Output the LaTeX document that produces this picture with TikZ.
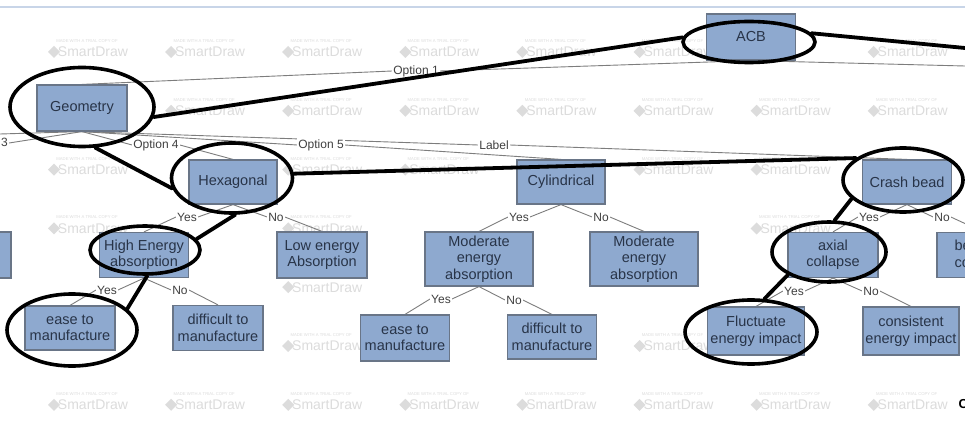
\documentclass[tikz,border=0pt]{standalone}
\usepackage{fontspec}
\setmainfont{Liberation Sans}
\usepackage{tikz}
\usetikzlibrary{
	shapes.geometric,
	backgrounds
}

\definecolor{boxblue}{RGB}{142,169,207}
\definecolor{boxedge}{RGB}{105,117,135}
\definecolor{boxtext}{RGB}{40,52,72}
\definecolor{wiregray}{RGB}{125,125,125}
\definecolor{wmark}{RGB}{220,220,220}
\definecolor{topline}{RGB}{200,213,232}

\tikzset{
	choice/.style={rectangle,draw=boxedge,fill=boxblue,line width=1.2pt,
		text=boxtext,align=center,inner sep=0pt,
		minimum width=89pt,minimum height=45pt,
		font=\fontsize{14.5}{16.5}\selectfont},
	tag/.style={text=black!75,fill=white,inner sep=1pt,
		font=\fontsize{12}{13}\selectfont},
	ring/.style={ellipse,draw=black,line width=3.6pt,inner sep=0pt},
	wire/.style={draw=wiregray,line width=0.9pt},
	pick/.style={draw=black,line width=3.8pt,line cap=round},
	wm/.style={text=wmark,font=\fontsize{14}{14}\selectfont,inner sep=0pt},
	wmsmall/.style={text=wmark,font=\fontsize{4.2}{5}\selectfont,inner sep=0pt}
}

\begin{document}
\begin{tikzpicture}[x=1pt,y=-1pt]
	\useasboundingbox (0,0) rectangle (965,430);
	\clip (0,0) rectangle (965,430);

	\node[choice,minimum height=46pt] (acb) at (751,37) {ACB};
	\node[choice,minimum width=90pt,minimum height=46pt] (geo) at (82,108) {Geometry};
	\node[choice,minimum width=88pt,minimum height=44pt] (hex) at (233,182) {Hexagonal};
	\node[choice,minimum width=88pt,minimum height=44pt] (cyl) at (561,182) {Cylindrical};
	\node[choice,minimum height=44pt] (bead) at (907,182) {Crash bead};
	\node[choice,minimum width=90pt,minimum height=46pt] (leftcut) at (-34,255) {};
	\node[choice] (high) at (144,255) {High Energy\\absorption};
	\node[choice,minimum width=90pt,minimum height=46pt] (low) at (322,255) {Low energy\\Absorption};
	\node[choice,minimum width=108pt,minimum height=54pt] (modl) at (479,259) {Moderate\\energy\\absorption};
	\node[choice,minimum width=108pt,minimum height=54pt] (modr) at (644,259) {Moderate\\energy\\absorption};
	\node[choice,minimum width=90pt] (axial) at (833,255) {axial\\collapse};
	\node[choice,minimum width=92pt] (rightcut) at (983,255) {};
	\node[anchor=west,align=left,text=boxtext,font=\fontsize{14.5}{16.5}\selectfont] (rightcuttext) at (951,254) {be\\co};
	\node[choice,minimum width=90pt,minimum height=44pt] (easel) at (70,328) {ease to\\manufacture};
	\node[choice,minimum width=90pt] (diffl) at (218,328) {difficult to\\manufacture};
	\node[choice,minimum height=46pt] (easem) at (405,338) {ease to\\manufacture};
	\node[choice,minimum height=44pt] (diffm) at (552,337) {difficult to\\manufacture};
	\node[choice,minimum width=97pt,minimum height=48pt] (fluct) at (756,331) {Fluctuate\\energy impact};
	\node[choice,minimum width=96pt,minimum height=48pt] (const) at (911,331) {consistent\\energy impact};
	\node[anchor=west,text=black,font=\fontsize{13}{13}\bfseries] (edgemark) at (955,404) {C};

	\node[tag] (opt1) at (416,71) {Option 1};
	\node[tag,anchor=east] (opt3) at (9,143) {Option 3};
	\node[tag] (opt4) at (156,145) {Option 4};
	\node[tag] (opt5) at (321,145) {Option 5};
	\node[tag] (lbl) at (494,145) {Label};
	\node[tag] (hexyes) at (187,217) {Yes};
	\node[tag] (hexno) at (276,217) {No};
	\node[tag] (cylyes) at (519,217) {Yes};
	\node[tag] (cylno) at (601,217) {No};
	\node[tag] (beadyes) at (869,217) {Yes};
	\node[tag] (beadno) at (942,217) {No};
	\node[tag] (highyes) at (107,290) {Yes};
	\node[tag] (highno) at (180,290) {No};
	\node[tag] (modyes) at (441,299) {Yes};
	\node[tag] (modno) at (514,300) {No};
	\node[tag] (axialyes) at (794,291) {Yes};
	\node[tag] (axialno) at (871,291) {No};

	\coordinate (rootR) at (965,66);
	\coordinate (rootT) at (965,48);
	\coordinate (geoL) at (0,134);

	\begin{scope}[on background layer]
		\fill[white] (0,0) rectangle (965,430);
		\draw[topline,line width=1.5pt] (0,7) -- (965,7);
		\foreach \i/\j in {0/0,1/0,2/0,3/0,4/0,5/0,7/0,
				1/1,2/1,3/1,4/1,5/1,6/1,7/1,
				0/2,2/2,3/2,5/2,6/2,
				0/3,2/3,6/3,
				2/4,
				2/5,5/5,
				0/6,1/6,2/6,3/6,4/6,5/6,6/6,7/6}
		{
			\node[wm] at ({93+117.1*\i},{52+58.8*\j}) {SmartDraw};
			\fill[wmark] ({48+117.1*\i},{52+58.8*\j}) -- ++(6,-6) -- ++(6,6) -- ++(-6,6) -- cycle;
			\node[wmsmall] at ({87+117.1*\i},{41+58.8*\j}) {MADE WITH A TRIAL COPY OF};
		}
		\draw[wire] (acb.south) -- (opt1.east);
		\draw[wire] (opt1.west) -- (geo.north);
		\draw[wire] (acb.south) -- (rootR);
		\draw[wire] (geo.south) -- (opt3.east);
		\draw[wire] (geo.south) -- (geoL);
		\draw[wire] (geo.south) -- (opt4.west);
		\draw[wire] (opt4.east) -- (hex.north);
		\draw[wire] (geo.south) -- (opt5.west);
		\draw[wire] (opt5.east) -- (cyl.north);
		\draw[wire] (geo.south) -- (lbl.west);
		\draw[wire] (lbl.east) -- (bead.north);
		\draw[wire] (hex.south) -- (hexyes.east);
		\draw[wire] (hexyes.west) -- (high.north);
		\draw[wire] (hex.south) -- (hexno.west);
		\draw[wire] (hexno.east) -- (low.north);
		\draw[wire] (cyl.south) -- (cylyes.east);
		\draw[wire] (cylyes.west) -- (modl.north);
		\draw[wire] (cyl.south) -- (cylno.west);
		\draw[wire] (cylno.east) -- (modr.north);
		\draw[wire] (bead.south) -- (beadyes.east);
		\draw[wire] (beadyes.west) -- (axial.north);
		\draw[wire] (bead.south) -- (beadno.west);
		\draw[wire] (beadno.east) -- (rightcut.north);
		\draw[wire] (high.south) -- (highyes.east);
		\draw[wire] (highyes.west) -- (easel.north);
		\draw[wire] (high.south) -- (highno.west);
		\draw[wire] (highno.east) -- (diffl.north);
		\draw[wire] (modl.south) -- (modyes.east);
		\draw[wire] (modyes.west) -- (easem.north);
		\draw[wire] (modl.south) -- (modno.west);
		\draw[wire] (modno.east) -- (diffm.north);
		\draw[wire] (axial.south) -- (axialyes.east);
		\draw[wire] (axialyes.west) -- (fluct.north);
		\draw[wire] (axial.south) -- (axialno.west);
		\draw[wire] (axialno.east) -- (const.north);
	\end{scope}

	\node[ring,minimum width=132pt,minimum height=41pt] (acbring) at (749,42) {};
	\node[ring,minimum width=144pt,minimum height=79pt] (georing) at (82,107) {};
	\node[ring,minimum width=121pt,minimum height=70pt] (hexring) at (232,178) {};
	\node[ring,minimum width=120pt,minimum height=64pt] (beadring) at (903,180) {};
	\node[ring,minimum width=110pt,minimum height=48pt] (highring) at (145,250) {};
	\node[ring,minimum width=114pt,minimum height=60pt] (axialring) at (829,252) {};
	\node[ring,minimum width=130pt,minimum height=72pt] (easering) at (72,330) {};
	\node[ring,minimum width=132pt,minimum height=64pt] (fluctring) at (751,332) {};

	\draw[pick] (georing.-8) -- (acbring.176);
	\draw[pick] (acbring.8) -- (rootT);
	\draw[pick] (georing.-72) -- (hexring.190);
	\draw[pick] (hexring.4) -- (beadring.155);
	\draw[pick] (hexring.-85) -- (highring.12);
	\draw[pick] (highring.-85) -- (easering.21);
	\draw[pick] (beadring.200) -- (axialring.80);
	\draw[pick] (axialring.209) -- (fluctring.68);
\end{tikzpicture}
\end{document}
